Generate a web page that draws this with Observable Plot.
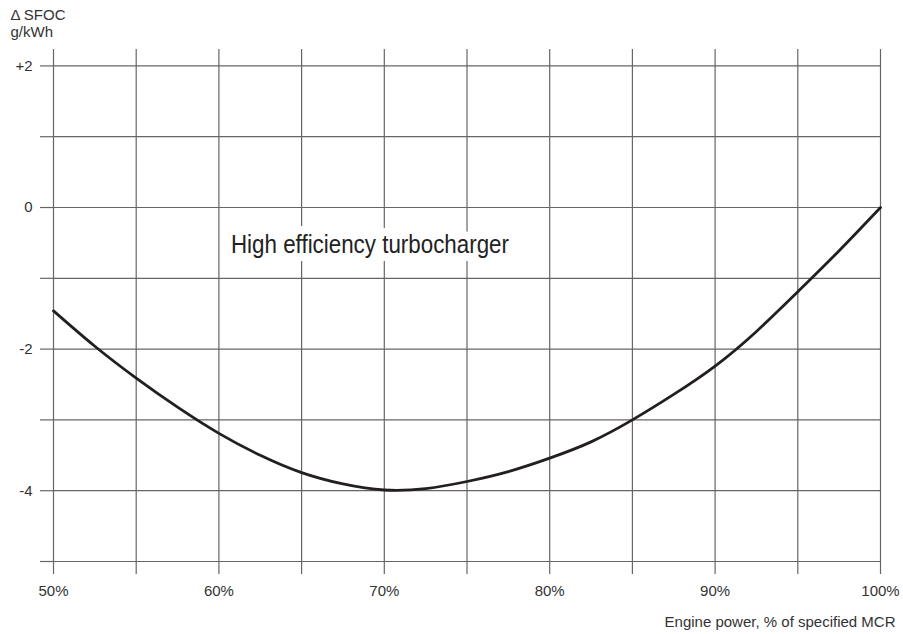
<!DOCTYPE html>
<html>
<head>
<meta charset="utf-8">
<script src="https://cdn.jsdelivr.net/npm/d3@7"></script>
<script src="https://cdn.jsdelivr.net/npm/@observablehq/plot@0.6"></script>
<style>
  body { margin: 0; background: #fff; }
</style>
</head>
<body>
<div id="chart"></div>
<script>
// Engine power (% of specified MCR)
const power = [50, 52.5, 55, 57.5, 60, 62.5, 65, 67.5, 70, 72.5, 75, 77.5, 80, 82.5, 85, 87.5, 90, 92.5, 95, 97.5, 100];
// Delta SFOC (g/kWh), high efficiency turbocharger
const sfoc = [-1.46, -1.96, -2.41, -2.82, -3.19, -3.50, -3.745, -3.905, -3.99, -3.97, -3.87, -3.73, -3.54, -3.31, -3.0, -2.64, -2.24, -1.75, -1.19, -0.61, 0];

const xTicks = [50, 55, 60, 65, 70, 75, 80, 85, 90, 95, 100];
const xTickLabels = {50: "50%", 60: "60%", 70: "70%", 80: "80%", 90: "90%", 100: "100%"};
const yTicks = [-5, -4, -3, -2, -1, 0, 1, 2];
const yTickLabels = {2: "+2", 0: "0", "-2": "-2", "-4": "-4"};

const seriesLabel = ["High efficiency turbocharger"];
const yTitle = ["\u0394 SFOC\ng/kWh"];
const xTitle = ["Engine power, % of specified MCR"];

const data = power.map((p, i) => ({power: p, sfoc: sfoc[i]}));

const gridColor = "#666666";
const textColor = "#333333";
const font = "'Liberation Sans', Arial, Helvetica, sans-serif";

const chart = Plot.plot({
  width: 903,
  height: 634,
  marginLeft: 53,
  marginRight: 23,
  marginTop: 49,
  marginBottom: 73,
  style: {fontFamily: font, fontSize: "15px", color: textColor, background: "#fff"},
  x: {domain: [50, 100]},
  y: {domain: [-5, 2.232]},
  marks: [
    Plot.gridX(xTicks, {stroke: gridColor, strokeOpacity: 1, strokeWidth: 1.2}),
    Plot.gridY(yTicks, {stroke: gridColor, strokeOpacity: 1, strokeWidth: 1.2}),
    Plot.axisX(xTicks, {
      tickSize: 13, tickPadding: 11, stroke: gridColor, strokeWidth: 1.2, fill: textColor,
      tickFormat: d => xTickLabels[d] ?? "", label: null, fontSize: 15
    }),
    Plot.axisY(yTicks, {
      tickSize: 13, tickPadding: 8, stroke: gridColor, strokeWidth: 1.2, fill: textColor,
      tickFormat: d => yTickLabels[d] ?? "", label: null, fontSize: 15
    }),
    Plot.text(seriesLabel, {
      x: 60.73, y: -0.53, text: d => d, textAnchor: "start", lineAnchor: "middle",
      fontFamily: font, fontSize: 25, fill: "#222", stroke: "white", strokeWidth: 16,
      strokeLinejoin: "round", className: "series-label"
    }),
    Plot.line(data, {x: "power", y: "sfoc", curve: "natural", stroke: "#231f20", strokeWidth: 2.8}),
    Plot.text(yTitle, {
      text: d => d, frameAnchor: "top-left", textAnchor: "start", lineAnchor: "top",
      dx: -43, dy: -41, lineHeight: 1.1, fontSize: 15, fill: textColor
    }),
    Plot.text(xTitle, {
      text: d => d, frameAnchor: "bottom-right", textAnchor: "end", lineAnchor: "middle",
      dx: 15, dy: 61, fontSize: 15, fill: textColor
    })
  ]
});
// condensed look of the annotation (as in the reference typeface)
chart.querySelectorAll(".series-label text, g[aria-label='text'] text").forEach(t => {
  if (t.textContent === seriesLabel[0]) {
    t.setAttribute("textLength", "278");
    t.setAttribute("lengthAdjust", "spacingAndGlyphs");
  }
});
document.getElementById("chart").appendChild(chart);
</script>
</body>
</html>
